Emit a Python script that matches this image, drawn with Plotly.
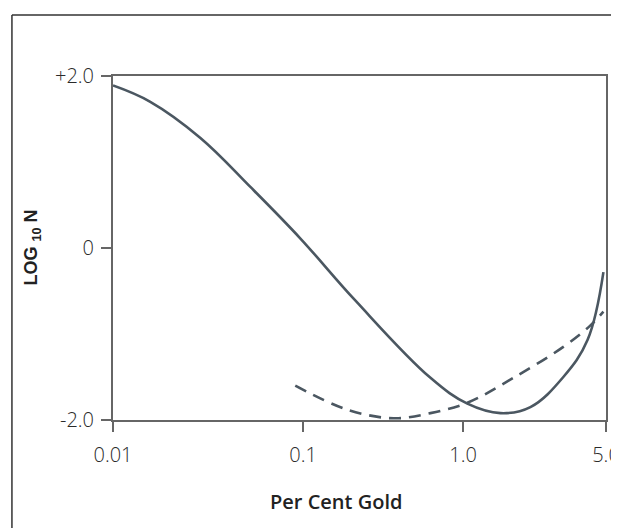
import plotly.graph_objects as go

# Per cent gold (log axis; the source's tick spacing is irregular,
# so the tick positions below are where the labelled ticks sit in the picture)
solid_x = [0.0100, 0.0160, 0.0301, 0.0565, 0.1062, 0.212, 0.547, 0.871, 1.321, 1.928, 2.92, 3.96, 4.84]
solid_y = [1.89, 1.70, 1.28, 0.71, 0.11, -0.61, -1.51, -1.81, -1.92, -1.85, -1.50, -1.07, -0.28]

dash_x = [0.0995, 0.192, 0.343, 0.547, 0.871, 1.556, 2.92, 4.11, 4.84]
dash_y = [-1.60, -1.88, -1.98, -1.92, -1.80, -1.51, -1.15, -0.90, -0.74]

x_tickvals = [0.01, 0.1097, 0.8255, 5.0]
x_ticktext = ["0.01", "0.1", "1.0", "5.0"]
y_tickvals = [-2, 0, 2]
y_ticktext = ["-2.0", "0", "+2.0"]

line_col = "#4b5761"
axis_col = "#666666"

fig = go.Figure()
fig.add_trace(go.Scatter(x=solid_x, y=solid_y, mode="lines",
                         line=dict(color=line_col, width=2.6, shape="spline", smoothing=1.1), showlegend=False))
fig.add_trace(go.Scatter(x=dash_x, y=dash_y, mode="lines",
                         line=dict(color=line_col, width=2.6, dash="12px,8px", shape="spline", smoothing=1.0), showlegend=False))

tickfont = dict(family="Open Sans", size=20, color="#2a2a2a", weight=300)

fig.update_layout(
    width=619, height=528,
    margin=dict(l=105, r=21, t=68, b=116),
    paper_bgcolor="white", plot_bgcolor="white",
    xaxis=dict(type="log", range=[-2, 0.69897], tickvals=x_tickvals, ticktext=x_ticktext,
               automargin=False,
               showgrid=False, zeroline=False, showline=True, linecolor=axis_col, linewidth=2,
               mirror=True, ticks="outside", ticklen=10, tickwidth=1.5, tickcolor=axis_col,
               tickfont=tickfont, ticklabelstandoff=6),
    yaxis=dict(range=[-2, 2], tickvals=y_tickvals, ticktext=y_ticktext,
               automargin=False,
               showgrid=False, zeroline=False, showline=True, linecolor=axis_col, linewidth=2,
               mirror=True, ticks="outside", ticklen=10, tickwidth=1.5, tickcolor=axis_col,
               tickfont=tickfont, ticklabelstandoff=3),
    annotations=[
        dict(text="Per Cent Gold", xref="paper", yref="paper", x=0.4527, y=0,
             xanchor="center", yanchor="middle", yshift=-81, showarrow=False,
             font=dict(family="Open Sans", size=20, color="#222222", weight=600)),
        dict(text="LOG <sub>10</sub> N", xref="paper", yref="paper", x=-0.1636, y=0.5025,
             xanchor="center", yanchor="middle", textangle=-90, showarrow=False,
             font=dict(family="Liberation Sans", size=18, color="#222222", weight=700)),
    ],
    shapes=[
        dict(type="line", xref="paper", yref="paper", x0=-0.205, x1=1.2, y0=1.177, y1=1.177,
             line=dict(color="#333333", width=1.5)),
        dict(type="line", xref="paper", yref="paper", x0=-0.205, x1=-0.205, y0=1.177, y1=-0.4,
             line=dict(color="#333333", width=1.5)),
    ],
)

fig.write_html("out.html")
